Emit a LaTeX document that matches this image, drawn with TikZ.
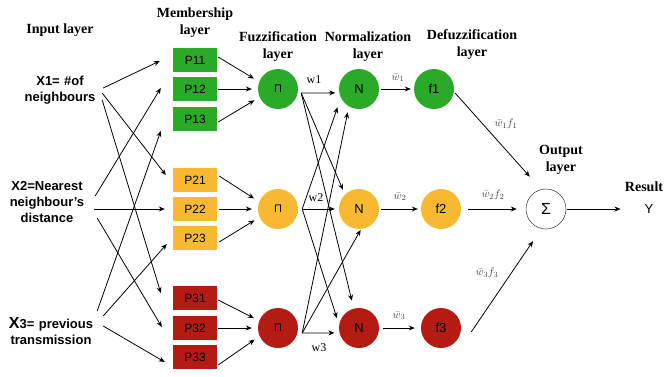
\documentclass[tikz,border=0pt]{standalone}
\usepackage{fontspec}
\setmainfont{Liberation Serif}
\setsansfont{Liberation Sans}
\usetikzlibrary{arrows.meta}
\definecolor{grn}{RGB}{43,169,40}
\definecolor{ylw}{RGB}{247,185,47}
\definecolor{rd}{RGB}{179,27,19}
\begin{document}
\begin{tikzpicture}[x=1pt,y=-1pt,
  box/.style={minimum width=44pt,minimum height=24pt,inner sep=0pt,font=\sffamily\fontsize{12}{12}\selectfont},
  neuron/.style={circle,minimum size=40pt,inner sep=0pt,font=\sffamily\fontsize{13}{13}\selectfont},
  ttl/.style={align=center,inner sep=0pt,font=\bfseries\fontsize{14}{17}\selectfont},
  inp/.style={align=center,inner sep=0pt,font=\sffamily\bfseries\fontsize{13}{16}\selectfont},
  arr/.style={-{Stealth[length=6pt,width=5pt]},line width=0.8pt},
  wlbl/.style={inner sep=0pt,text=black!75,font=\fontsize{11}{11}\selectfont}]
\useasboundingbox (0,0) rectangle (665,376);
%\draw[step=20,gray,very thin] (0,0) grid (665,376); %background grid
\node[ttl] (t1) at (60,30) {Input layer};
\node[ttl] (t2) at (195,23) {Membership\\layer};
\node[ttl] (t3) at (278,47) {Fuzzification\\layer};
\node[ttl] (t4) at (368,47) {Normalization\\layer};
\node[ttl] (t5) at (472,45) {Defuzzification\\layer};
\node[ttl] (t6) at (561,160) {Output\\layer};
\node[ttl] (t7) at (644,187) {Result};

\node[inp,text width=72pt] (x1) at (60,90) {X1= \#of\\neighbours};
\node[inp,text width=76pt] (x2) at (47,202) {X2=Nearest\\neighbour’s\\distance};
\node[inp,text width=86pt] (x3) at (51,331) {\mbox{{\fontsize{16}{16}\selectfont X}3= previous}\\transmission};

\node[box,fill=grn] (p11) at (195,60) {P11};
\node[box,fill=grn] (p12) at (195,89) {P12};
\node[box,fill=grn] (p13) at (195,119) {P13};
\node[box,fill=ylw] (p21) at (195,180) {P21};
\node[box,fill=ylw] (p22) at (195,209) {P22};
\node[box,fill=ylw] (p23) at (195,238) {P23};
\node[box,fill=rd] (p31) at (195,298) {P31};
\node[box,fill=rd] (p32) at (195,328) {P32};
\node[box,fill=rd] (p33) at (195,357) {P33};

\node[neuron,fill=grn,font=\sffamily\fontsize{11}{11}\selectfont] (c1) at (278,89) {Π};
\node[neuron,fill=ylw,font=\sffamily\fontsize{11}{11}\selectfont] (c2) at (278,209) {Π};
\node[neuron,fill=rd,font=\sffamily\fontsize{11}{11}\selectfont] (c3) at (278,328) {Π};
\node[neuron,fill=grn] (n1) at (359,89) {N};
\node[neuron,fill=ylw] (n2) at (359,209) {N};
\node[neuron,fill=rd] (n3) at (359,328) {N};
\node[neuron,fill=grn] (f1) at (434,89) {f1};
\node[neuron,fill=ylw] (f2) at (441,209) {f2};
\node[neuron,fill=rd] (f3) at (441,328) {f3};
\node[neuron,draw=black!80,line width=0.5pt,font=\sffamily\fontsize{16}{16}\selectfont] (sum) at (546,209) {Σ};
\node[inner sep=0pt,font=\sffamily\fontsize{13}{13}\selectfont] (y) at (649,209) {Y};

% input -> membership
\draw[arr] ([xshift=7pt,yshift=2pt]x1.east) -- ([xshift=-13pt,yshift=-1pt]p11.west);
\draw[arr] ([xshift=6pt,yshift=-3pt]x1.east) -- ([xshift=-7pt,yshift=5pt]p21.west);
\draw[arr] ([xshift=6pt,yshift=-10pt]x1.east) -- ([xshift=-12pt,yshift=5pt]p31.west);
\draw[arr] ([xshift=10pt,yshift=6pt]x2.east) -- ([xshift=-12pt,yshift=1pt]p12.west);
\draw[arr] ([xshift=9pt,yshift=-7pt]x2.east) -- ([xshift=-8pt,yshift=0pt]p22.west);
\draw[arr] ([xshift=12pt,yshift=-16pt]x2.east) -- ([xshift=-11pt,yshift=1pt]p32.west);
\draw[arr] ([xshift=3pt,yshift=20pt]x3.east) -- ([xshift=-12pt,yshift=-12pt]p13.west);
\draw[arr] ([xshift=9pt,yshift=15pt]x3.east) -- ([xshift=-6pt,yshift=-6pt]p23.west);
\draw[arr] ([xshift=9pt,yshift=5pt]x3.east) -- ([xshift=-8pt,yshift=-5pt]p33.west);

% membership -> fuzzification
\draw[arr,shorten >=6pt] ([xshift=1pt,yshift=3pt]p11.east) -- (c1.159);
\draw[arr,shorten >=6pt] ([xshift=1pt]p12.east) -- (c1.west);
\draw[arr,shorten >=6pt] ([xshift=1pt,yshift=-3pt]p13.east) -- (c1.204);
\draw[arr,shorten >=6pt] ([xshift=2pt,yshift=4pt]p21.east) -- (c2.159);
\draw[arr,shorten >=6pt] ([xshift=2pt]p22.east) -- (c2.west);
\draw[arr,shorten >=6pt] ([xshift=2pt,yshift=-4pt]p23.east) -- (c2.204);
\draw[arr,shorten >=6pt] ([xshift=1pt,yshift=-2pt]p31.east) -- (c3.159);
\draw[arr,shorten >=6pt] ([xshift=1pt]p32.east) -- (c3.west);
\draw[arr,shorten >=6pt] ([xshift=1pt,yshift=-8pt]p33.east) -- (c3.204);

% fuzzification -> normalization
\coordinate (o1) at ([xshift=3pt,yshift=-4pt]c1.east);
\coordinate (o2) at ([xshift=4pt]c2.east);
\coordinate (o3) at ([xshift=4pt,yshift=-5pt]c3.east);
\draw[arr,shorten >=4pt] (o1) -- (n1.191);
\draw[arr,shorten >=5pt] (o1) -- (n2.134);
\draw[arr,shorten >=8pt] (o1) -- (n3.105);
\draw[arr,shorten >=10pt] (o2) -- (n1.206);
\draw[arr,shorten >=4pt] (o2) -- (n2.west);
\draw[arr,shorten >=7pt] (o2) -- (n3.171);
\draw[arr,shorten >=6pt] (o3) -- (n1.240);
\draw[arr,shorten >=1pt] (o3) -- (n2.276);
\draw[arr,shorten >=5pt] (o3) -- (n3.194);
\node[font=\fontsize{12}{12}\selectfont] (w1) at (314,80) {w1};
\node[font=\fontsize{12}{12}\selectfont] (w2) at (316,198) {w2};
\node[font=\fontsize{12}{12}\selectfont] (w3) at (319,348) {w3};

% normalization -> defuzzification
\draw[arr,shorten <=2pt,shorten >=3pt] (n1) -- (f1);
\draw[arr,shorten <=2pt,shorten >=3pt] (n2) -- (f2);
\draw[arr,shorten <=4pt,shorten >=6pt] (n3) -- (f3);
\node[wlbl] (wb1) at (398,78) {$\bar{w}_1$};
\node[wlbl] (wb2) at (400,197) {$\bar{w}_2$};
\node[wlbl] (wb3) at (399,316) {$\bar{w}_3$};

% defuzzification -> output
\draw[arr,shorten <=2pt,shorten >=17pt] (f1.-8) -- (sum.104);
\draw[arr,shorten <=7pt,shorten >=9pt] (f2) -- (sum);
\draw[arr,shorten >=15pt] ([xshift=10pt,yshift=-4pt]f3.east) -- (sum.257);
\draw[arr,shorten <=1pt,shorten >=24pt] (sum) -- (y);
\node[wlbl] (wf1) at (506,124) {$\bar{w}_1 f_1$};
\node[wlbl] (wf2) at (493,195) {$\bar{w}_2 f_2$};
\node[wlbl] (wf3) at (487,273) {$\bar{w}_3 f_3$};
\end{tikzpicture}
\end{document}
